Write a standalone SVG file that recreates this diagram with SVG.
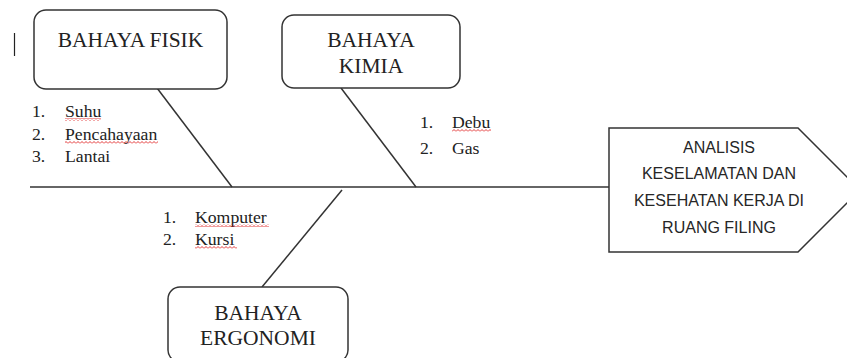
<svg xmlns="http://www.w3.org/2000/svg" width="847" height="358" viewBox="0 0 847 358">
<defs>
<style>
.box{fill:#fff;stroke:#333;stroke-width:1.5}
.ln{stroke:#333;stroke-width:1.5;fill:none}
.t{font-family:"Liberation Serif","Times New Roman",serif;font-size:21.5px;fill:#222;text-anchor:middle}
.li{font-family:"Liberation Serif","Times New Roman",serif;font-size:17.7px;fill:#222}
.h{font-family:"Liberation Sans",Arial,sans-serif;font-size:16px;fill:#262626;text-anchor:middle}
.sq{fill:url(#sqp)}
</style>
<pattern id="sqp" width="4" height="3" patternUnits="userSpaceOnUse">
<path d="M0 2.5 L2 0.5 L4 2.5" stroke="#e02020" stroke-width="0.9" fill="none"/>
</pattern>
</defs>
<rect width="847" height="358" fill="#fff"/>
<line x1="14.5" y1="33" x2="14.5" y2="56" stroke="#222" stroke-width="1.2"/>
<g id="connectors">
<line class="ln" x1="30" y1="187" x2="609" y2="187"/>
<line class="ln" x1="157" y1="88" x2="232" y2="187"/>
<line class="ln" x1="341" y1="88" x2="416" y2="187"/>
<line class="ln" x1="342" y1="190" x2="262" y2="287"/>
</g>
<g id="fisik">
<rect class="box" x="34" y="10" width="193" height="79" rx="12"/>
<text class="t" x="130.5" y="47">BAHAYA FISIK</text>
</g>
<g id="kimia">
<rect class="box" x="282" y="15" width="178" height="73" rx="12"/>
<text class="t" x="371" y="47">BAHAYA</text>
<text class="t" x="371" y="73">KIMIA</text>
</g>
<g id="ergonomi">
<rect class="box" x="168" y="287" width="180" height="75" rx="12"/>
<text class="t" x="258" y="320">BAHAYA</text>
<text class="t" x="258" y="345">ERGONOMI</text>
</g>
<g id="result">
<polygon class="box" points="609,128 798,128 860,190 798,252 609,252"/>
<text class="h" x="719" y="153">ANALISIS</text>
<text class="h" x="719" y="179">KESELAMATAN DAN</text>
<text class="h" x="719" y="206">KESEHATAN KERJA DI</text>
<text class="h" x="719" y="233">RUANG FILING</text>
</g>
<g id="list-fisik">
<text class="li" x="32" y="117">1.</text><text class="li" x="65" y="117">Suhu</text>
<text class="li" x="32" y="140">2.</text><text class="li" x="65" y="140">Pencahayaan</text>
<text class="li" x="32" y="162">3.</text><text class="li" x="65" y="162">Lantai</text>
<rect class="sq" x="65" y="118" width="36" height="3"/>
<rect class="sq" x="65" y="141" width="93" height="3"/>
</g>
<g id="list-kimia">
<text class="li" x="420" y="128">1.</text><text class="li" x="452" y="128">Debu</text>
<text class="li" x="420" y="154">2.</text><text class="li" x="452" y="154">Gas</text>
<rect class="sq" x="452" y="129" width="39" height="3"/>
</g>
<g id="list-ergonomi">
<text class="li" x="163" y="223">1.</text><text class="li" x="195" y="223">Komputer</text>
<text class="li" x="163" y="245">2.</text><text class="li" x="195" y="245">Kursi</text>
<rect class="sq" x="195" y="224" width="74" height="3"/>
<rect class="sq" x="195" y="246" width="42" height="3"/>
</g>
</svg>
